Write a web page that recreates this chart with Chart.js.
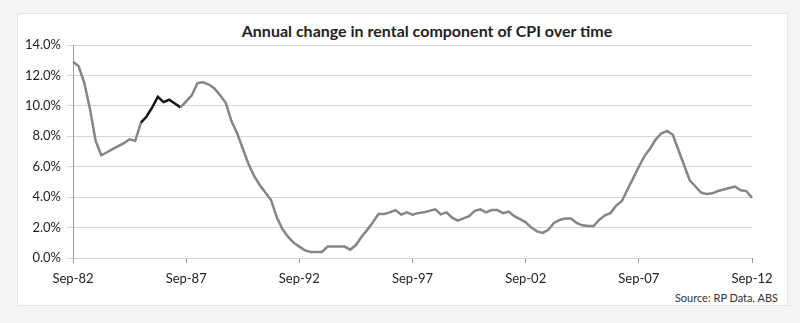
<!DOCTYPE html>
<html>
<head>
<meta charset="utf-8">
<script src="https://cdn.jsdelivr.net/npm/chart.js@4.4.1/dist/chart.umd.min.js"></script>
<style>
  html, body { margin: 0; padding: 0; }
  body { width: 800px; height: 323px; background: #f4f4f4; position: relative; overflow: hidden; font-family: Lato, "Open Sans", sans-serif; }
  #panel { position: absolute; left: 17px; top: 13px; width: 769px; height: 291px; background: #fff; border: 1px solid #e4e4e4; }
  #title { position: absolute; left: 0; width: 854px; top: 21px; text-align: center; font-weight: bold; font-size: 16px; color: #222; }
  #source { position: absolute; right: 22px; top: 291px; font-size: 11px; color: #333; }
  #chart { position: absolute; left: 0; top: 0; }
</style>
</head>
<body>
<div id="panel"></div>
<div id="title">Annual change in rental component of CPI over time</div>
<div id="source">Source: RP Data, ABS</div>
<canvas id="chart" width="800" height="323"></canvas>
<script>
// Quarterly series, Sep-82 to Sep-12 (annual % change)
const rentValues = [
  12.9, 12.6, 11.5, 9.8, 7.7, 6.75, 6.95, 7.15, 7.35, 7.55,
  7.8, 7.7, 8.9, 9.3, 9.9, 10.6, 10.25, 10.4, 10.15, 9.9,
  10.3, 10.7, 11.5, 11.55, 11.4, 11.15, 10.7, 10.2, 9.0, 8.2,
  7.2, 6.2, 5.4, 4.8, 4.3, 3.8, 2.7, 1.9, 1.4, 1.0,
  0.75, 0.5, 0.4, 0.4, 0.4, 0.75, 0.75, 0.75, 0.75, 0.55,
  0.85, 1.4, 1.85, 2.35, 2.9, 2.9, 3.0, 3.15, 2.85, 3.0,
  2.85, 2.95, 3.0, 3.1, 3.2, 2.87, 3.0, 2.65, 2.45, 2.6,
  2.75, 3.1, 3.2, 3.0, 3.15, 3.15, 2.95, 3.05, 2.75, 2.55,
  2.35, 2.0, 1.75, 1.65, 1.85, 2.3, 2.5, 2.6, 2.6, 2.3,
  2.15, 2.1, 2.1, 2.5, 2.8, 2.95, 3.45, 3.75, 4.5, 5.25,
  6.0, 6.7, 7.2, 7.8, 8.2, 8.35, 8.1, 7.1, 6.1, 5.1,
  4.7, 4.3, 4.2, 4.25, 4.4, 4.5, 4.6, 4.7, 4.45, 4.4,
  3.95
];

// the darker stretch of the line
const highlightStart = 12;
const highlightEnd = 19;

const tickLabels = ['Sep-82', 'Sep-87', 'Sep-92', 'Sep-97', 'Sep-02', 'Sep-07', 'Sep-12'];
const labelEvery = 20;

// build quarter labels Sep-82, Dec-82, Mar-83 ...
const months = ['Sep', 'Dec', 'Mar', 'Jun'];
const quarterLabels = rentValues.map((v, i) => {
  const yr = (82 + Math.floor((i + 2) / 4)) % 100;
  return months[i % 4] + '-' + String(yr).padStart(2, '0');
});

const ctx = document.getElementById('chart').getContext('2d');

new Chart(ctx, {
  type: 'line',
  data: {
    labels: quarterLabels,
    datasets: [{
      data: rentValues,
      borderColor: '#858585',
      borderWidth: 2.5,
      pointRadius: 0,
      tension: 0,
      segment: {
        borderColor: c => (c.p0DataIndex >= highlightStart && c.p1DataIndex <= highlightEnd) ? '#151515' : undefined
      }
    }]
  },
  options: {
    responsive: false,
    animation: false,
    layout: { padding: { left: 0, right: 48, top: 45, bottom: 35 } },
    plugins: {
      legend: { display: false },
      tooltip: { enabled: false }
    },
    scales: {
      x: {
        grid: {
          drawOnChartArea: false,
          drawTicks: true,
          tickLength: 5,
          color: c => (c.index % labelEvery === 0) ? '#9a9a9a' : 'rgba(0,0,0,0)'
        },
        border: { display: false },
        ticks: {
          autoSkip: false,
          maxRotation: 0,
          padding: 8,
          color: '#222',
          font: { family: 'Lato', size: 13 },
          callback: (v, i) => (i % labelEvery === 0) ? tickLabels[i / labelEvery] : ''
        },
        afterFit: s => { s.height = 30; }
      },
      y: {
        min: 0,
        max: 14,
        grid: { color: '#d6d6d6', lineWidth: 1, tickLength: 6 },
        border: { display: true, color: '#9a9a9a', width: 1 },
        ticks: {
          stepSize: 2,
          padding: 6,
          color: '#222',
          font: { family: 'Lato', size: 13 },
          callback: v => v.toFixed(1) + '%'
        },
        afterFit: s => { s.width = 73; }
      }
    }
  }
});
</script>
</body>
</html>
